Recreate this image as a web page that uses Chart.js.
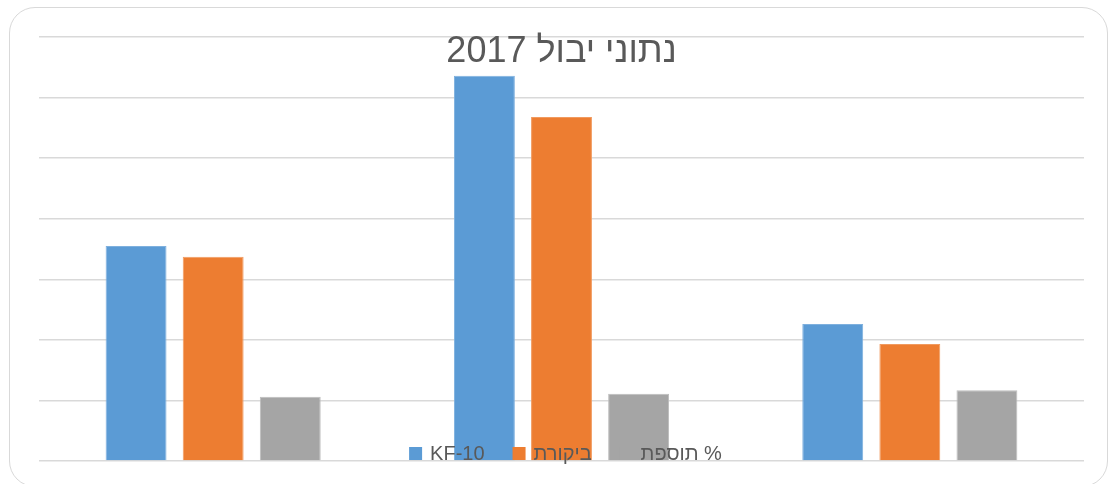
<!DOCTYPE html>
<html>
<head>
<meta charset="utf-8">
<script src="https://cdn.jsdelivr.net/npm/chart.js@4/dist/chart.umd.min.js"></script>
<style>
  html, body { margin: 0; padding: 0; background: #fff; overflow: hidden; }
  #frame {
    position: absolute; left: 9px; top: 7px; width: 1099px; height: 480px;
    box-sizing: border-box; border: 1.5px solid #d9d9d9; border-radius: 26px;
  }
  #myChart { position: absolute; left: 0; top: 0; }
</style>
</head>
<body>
<div id="frame"></div>
<canvas id="myChart" width="1108" height="484"></canvas>
<script>
var chartTitle = 'נתוני יבול 2017';
var categories = ['1', '2', '3'];
var seriesNames = ['KF-10', 'ביקורת', '% תוספת'];
var kf10 = [3.55, 6.36, 2.26];
var control = [3.37, 5.68, 1.93];
var addition = [1.06, 1.11, 1.17];
var colors = ['#5B9BD5', '#ED7D31', '#A5A5A5'];
var edges = ['#7eb0de', '#f19a5f', '#bdbdbd'];

// title and legend sit on top of the plot, like the excel original
var overlay = {
    id: 'overlay',
    afterDraw: function(chart) {
        var ctx = chart.ctx;
        var area = chart.chartArea;
        var cx = (area.left + area.right) / 2;
        ctx.save();
        ctx.fillStyle = '#595959';
        ctx.font = '36px "Liberation Sans", Arial, sans-serif';
        ctx.textAlign = 'center';
        ctx.textBaseline = 'alphabetic';
        ctx.fillText(chartTitle, cx, 62);

        ctx.font = '20px "Liberation Sans", Arial, sans-serif';
        var box = 13, gap = 8, space = 28;
        var sets = chart.data.datasets;
        var widths = [];
        var total = 0;
        for (var i = 0; i < sets.length; i++) {
            var w = ctx.measureText(sets[i].label).width;
            widths.push(w);
            total += box + gap + w;
            if (i > 0) total += space;
        }
        var x = cx + 4 - total / 2;
        var base = 460;
        for (i = 0; i < sets.length; i++) {
            ctx.fillStyle = sets[i].backgroundColor;
            ctx.fillRect(x, base - 13, box, box);
            x += box + gap;
            ctx.fillStyle = '#595959';
            ctx.direction = /[\u0590-\u05FF]/.test(sets[i].label) ? 'rtl' : 'ltr';
            ctx.textAlign = 'left';
            ctx.fillText(sets[i].label, x, base);
            x += widths[i] + space;
        }
        ctx.restore();
    }
};

var ctx = document.getElementById('myChart').getContext('2d');
var chart = new Chart(ctx, {
    type: 'bar',
    data: {
        labels: categories,
        datasets: [
            { label: seriesNames[0], data: kf10, backgroundColor: colors[0], borderColor: edges[0], borderWidth: 1 },
            { label: seriesNames[1], data: control, backgroundColor: colors[1], borderColor: edges[1], borderWidth: 1 },
            { label: seriesNames[2], data: addition, backgroundColor: colors[2], borderColor: edges[2], borderWidth: 1 }
        ]
    },
    options: {
        responsive: false,
        animation: false,
        categoryPercentage: 0.664,
        barPercentage: 0.79,
        layout: {
            padding: { left: 39, right: 24, top: 37, bottom: 23 }
        },
        plugins: {
            legend: { display: false },
            title: { display: false },
            tooltip: { enabled: false }
        },
        scales: {
            x: { display: false },
            y: {
                min: 0,
                max: 7,
                ticks: { display: false, stepSize: 1 },
                border: { display: false },
                grid: { color: '#d9d9d9', lineWidth: 1.5, drawTicks: false }
            }
        }
    },
    plugins: [overlay]
});
</script>
</body>
</html>
